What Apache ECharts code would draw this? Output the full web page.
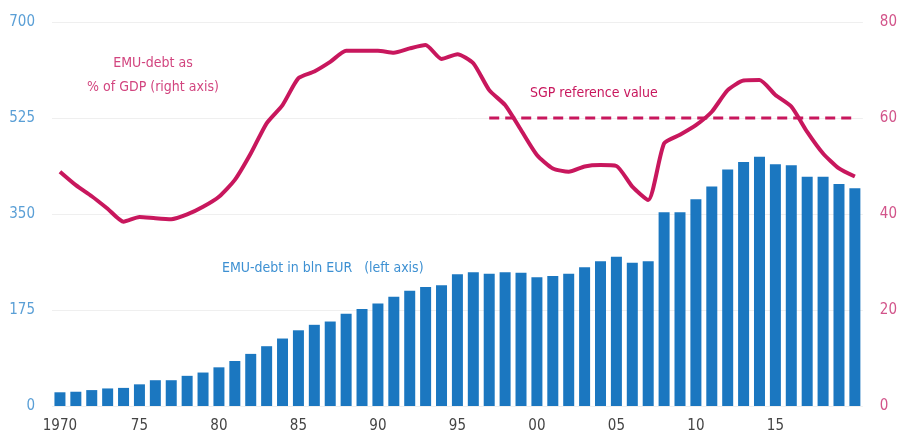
<!DOCTYPE html>
<html>
<head>
<meta charset="utf-8">
<script src="https://cdn.jsdelivr.net/npm/echarts@6/dist/echarts.min.js"></script>
<style>
html,body{margin:0;padding:0;background:#fff;}
#c{width:900px;height:441px;}
</style>
</head>
<body>
<div id="c"></div>
<script>
const years = [];
for (let y = 1970; y <= 2020; y++) years.push(String(y));

const tickLabels = {"1970":"1970","1975":"75","1980":"80","1985":"85","1990":"90","1995":"95","2000":"00","2005":"05","2010":"10","2015":"15"};

// EMU debt in bln EUR (left axis)
const debtBln = [25,26,29,32,33,39.5,47,47,55,61,
                 70.5,82,95,109,123,138,148,154,168,177,
                 187,199,210,217,220,240,244,241,244,243,
                 234.5,237,241,253,264,272,261,264,353,353,
                 377,400,431,445,454.5,440.5,439,418,418,404.7,397];

// EMU debt as % of GDP (right axis)
const debtPct = [48.8,46.0,43.7,41.1,38.4,39.4,39.1,38.9,39.9,41.5,
                 43.6,47.1,52.6,58.9,62.7,68.3,69.7,71.7,74.0,74.0,
                 74.0,73.6,74.5,75.2,72.3,73.3,71.4,65.8,62.7,57.5,
                 52.3,49.5,48.8,49.9,50.2,50.0,45.7,42.9,54.7,56.5,
                 58.5,61.3,65.8,67.8,67.9,64.8,62.4,57.1,52.6,49.5,47.8];

// SGP reference value (60%), shown from 1997 on
const sgpRef = years.map(y => (+y >= 1997 ? 60 : null));

const leftTicks = [0,175,350,525,700];
const rightTicks = [0,20,40,60,80];

const font = '"Liberation Sans Narrow", "DejaVu Sans Condensed", "Roboto", sans-serif';

const chart = echarts.init(document.getElementById('c'), null, {renderer:'canvas'});
chart.setOption({
  animation:false,
  backgroundColor:'#ffffff',
  grid:{left:52,right:32,top:22,bottom:35},
  xAxis:{
    type:'category',
    data:years,
    boundaryGap:true,
    axisLine:{show:false},
    axisTick:{show:false},
    axisLabel:{
      interval:0,
      formatter:v => tickLabels[v] || '',
      color:'#444',
      fontFamily:font,
      fontSize:15,
      margin:13
    }
  },
  yAxis:[
    {
      type:'value',min:leftTicks[0],max:leftTicks[leftTicks.length-1],interval:175,
      axisLine:{show:false},axisTick:{show:false},
      axisLabel:{color:'#5a9fd6',fontFamily:font,fontSize:15,margin:17},
      splitLine:{show:true,lineStyle:{color:'#efefef',width:1}}
    },
    {
      type:'value',min:rightTicks[0],max:rightTicks[rightTicks.length-1],interval:20,
      axisLine:{show:false},axisTick:{show:false},
      axisLabel:{color:'#d2548a',fontFamily:font,fontSize:15,margin:17},
      splitLine:{show:false}
    }
  ],
  series:[
    {
      name:'EMU-debt in bln EUR',
      type:'bar',
      yAxisIndex:0,
      data:debtBln,
      barWidth:11,
      itemStyle:{color:'#1b77c0'},
      z:2
    },
    {
      name:'EMU-debt as % of GDP',
      type:'line',
      yAxisIndex:1,
      data:debtPct,
      showSymbol:false,
      smooth:0.2,
      lineStyle:{color:'#c8175d',width:4},
      z:4
    },
    {
      name:'SGP reference value',
      type:'line',
      yAxisIndex:1,
      data:sgpRef,
      showSymbol:false,
      connectNulls:false,
      lineStyle:{color:'#c8175d',width:3,type:[10,6]},
      z:3
    }
  ],
  graphic:[
    {type:'text',x:153,y:63,style:{text:'EMU-debt as',fill:'#d2457f',font:'14px '+font,textAlign:'center',textVerticalAlign:'middle'}},
    {type:'text',x:153,y:87,style:{text:'% of GDP (right axis)',fill:'#d2457f',font:'14px '+font,textAlign:'center',textVerticalAlign:'middle'}},
    {type:'text',x:530,y:93,style:{text:'SGP reference value',fill:'#c8175d',font:'14px '+font,textAlign:'left',textVerticalAlign:'middle'}},
    {type:'text',x:222,y:268,style:{text:'EMU-debt in bln EUR   (left axis)',fill:'#3d90d2',font:'14px '+font,textAlign:'left',textVerticalAlign:'middle'}}
  ]
});
</script>
</body>
</html>
